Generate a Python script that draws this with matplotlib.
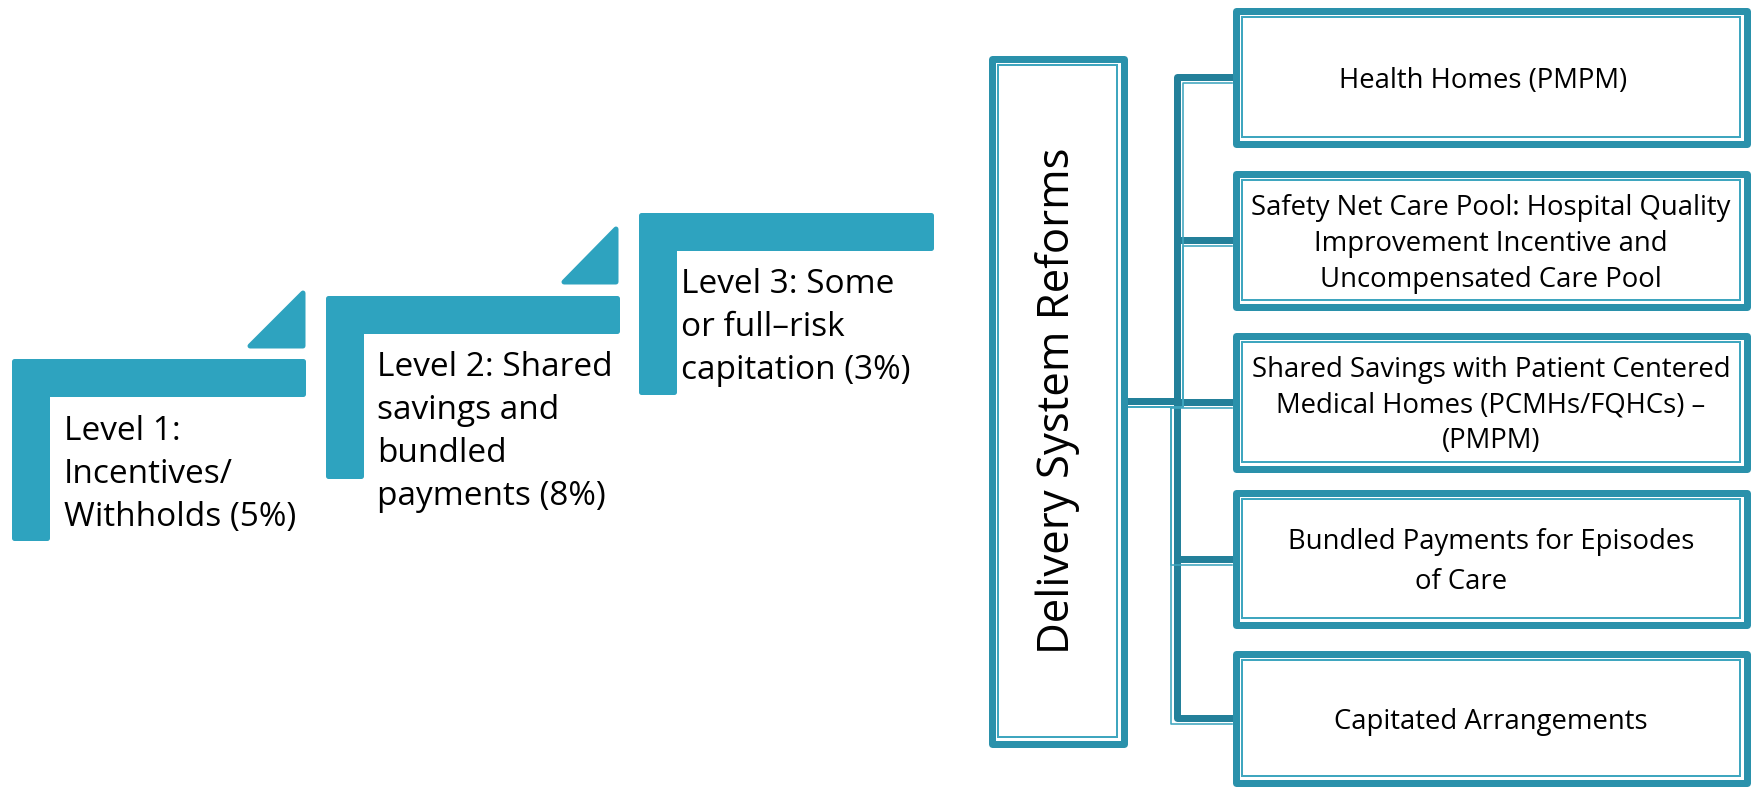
import matplotlib
matplotlib.use("Agg")
import matplotlib.pyplot as plt
from matplotlib.patches import Polygon, Rectangle

plt.rcParams['font.family'] = ['Open Sans', 'DejaVu Sans']

# ---- content ----
level_labels = [
    ["Level 1:", "Incentives/", "Withholds (5%)"],
    ["Level 2: Shared", "savings and", "bundled", "payments (8%)"],
    ["Level 3: Some", "or full–risk", "capitation (3%)"],
]
center_label = "Delivery System Reforms"
reform_lines = [
    ["Health Homes (PMPM)"],
    ["Safety Net Care Pool: Hospital Quality", "Improvement Incentive and", "Uncompensated Care Pool"],
    ["Shared Savings with Patient Centered", "Medical Homes (PCMHs/FQHCs) –", "(PMPM)"],
    ["Bundled Payments for Episodes", "of Care"],
    ["Capitated Arrangements"],
]

# ---- style ----
STEP = "#2ea3bf"
BORDER = "#2a91ab"
INNER = "#3fa6bf"
CONN = "#23809a"
W, H = 1752, 787
PX = 72 / 100.0  # px -> pt

fig = plt.figure(figsize=(W / 100, H / 100), dpi=100)
ax = fig.add_axes([0, 0, 1, 1])
ax.set_xlim(0, W)
ax.set_ylim(H, 0)
ax.axis("off")

# ---- staircase ----
steps = [  # x0, x1, top, bottom
    (11, 305, 358, 540),
    (325, 619, 295, 478),
    (638, 933, 212, 394),
]
tris = [(246, 289, 305, 348), (560, 225, 618, 284)]
T = 38
inset = 2.5
for (x0, x1, y0, yb) in steps:
    pts = [(x0, y0), (x1, y0), (x1, y0 + T), (x0 + T, y0 + T), (x0 + T, yb), (x0, yb)]
    cx = [(p[0] + (inset if p[0] == x0 else -inset if p[0] in (x1, x0 + T) else 0),
           p[1] + (inset if p[1] == y0 else -inset if p[1] in (y0 + T, yb) else 0)) for p in pts]
    ax.add_patch(Polygon(cx, closed=True, facecolor=STEP, edgecolor=STEP,
                         lw=2 * inset * PX, joinstyle="round"))
for (xl, yt, xr, yb) in tris:
    ax.add_patch(Polygon([(xl + 4, yb - 2), (xr - 2, yt + 4), (xr - 2, yb - 2)], closed=True,
                         facecolor=STEP, edgecolor=STEP, lw=5 * PX, joinstyle="round"))

text_pos = [(64, 440), (377, 376), (681, 293)]
for (tx, ty), lines in zip(text_pos, level_labels):
    for j, ln in enumerate(lines):
        ax.text(tx, ty + 43 * j, ln, fontsize=24, ha="left", va="baseline", color="black")

# ---- right side ----
def dbox(x0, y0, x1, y1):
    ax.add_patch(Rectangle((x0 + 3.5, y0 + 3.5), x1 - x0 - 7, y1 - y0 - 7, fill=True,
                           facecolor="white", edgecolor=BORDER, lw=7 * PX, joinstyle="round", zorder=3))
    ax.add_patch(Rectangle((x0 + 10, y0 + 10), x1 - x0 - 20, y1 - y0 - 20, fill=False,
                           edgecolor=INNER, lw=2 * PX, zorder=3))

bx0, bx1 = 1232, 1750
box_tops = [7, 170, 332, 489, 650]
box_bots = [147, 310, 472, 628, 786]
cxL, cyL = 1127, 401
vx = 1177

for t, b in zip(box_tops, box_bots):
    cy = (t + b) / 2
    ax.plot([cxL, vx, vx, bx0], [cyL, cyL, cy, cy], color=CONN, lw=7 * PX,
            solid_joinstyle="round", zorder=1)
    off = 6 if cy < cyL else -6
    ax.plot([cxL, vx + off, vx + off, bx0], [cyL + 6, cyL + 6, cy + 6, cy + 6], color=INNER,
            lw=1.6 * PX, zorder=1.5)

dbox(988, 55, 1127, 747)
ax.text(1057.5, 401, center_label, fontsize=31.5, rotation=90, ha="center", va="center", zorder=4)

line_sp = [37, 36, 36, 40, 37]
x_shift = {(0, 0): -8, (3, 1): -30}
for i, (t, b, lines) in enumerate(zip(box_tops, box_bots, reform_lines)):
    dbox(bx0, t, bx1, b)
    cy = (t + b) / 2
    n = len(lines)
    for j, ln in enumerate(lines):
        y = cy + (j - (n - 1) / 2) * line_sp[i]
        ax.text((bx0 + bx1) / 2 + x_shift.get((i, j), 0), y, ln, fontsize=19.8,
                ha="center", va="center_baseline", zorder=4)

fig.savefig("out.png", dpi=100, facecolor="white")
